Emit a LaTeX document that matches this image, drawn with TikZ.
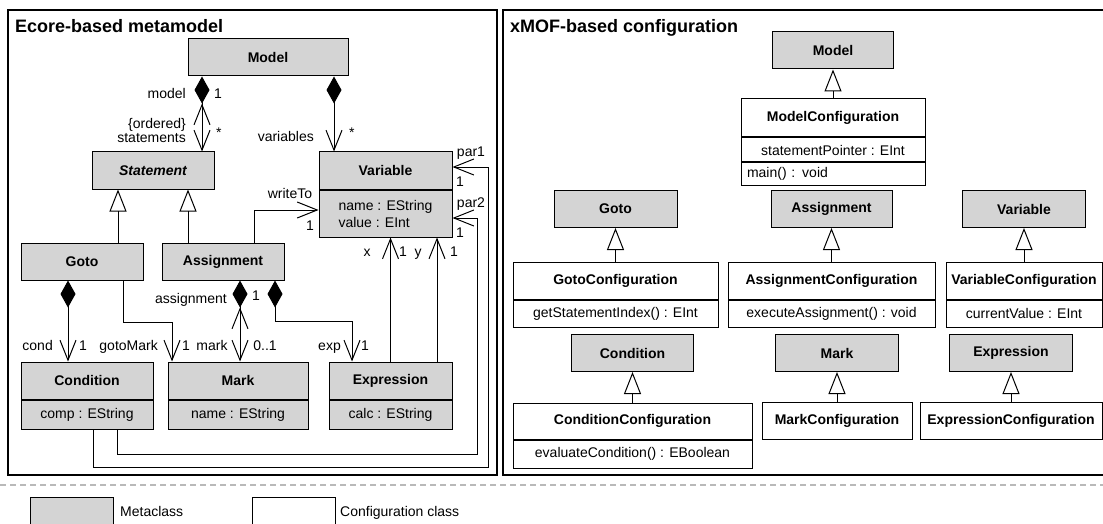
\documentclass[tikz,border=0pt]{standalone}
\usepackage{fontspec}
\setmainfont{Liberation Sans}
\usetikzlibrary{arrows.meta,positioning}
\definecolor{metagrey}{HTML}{D4D4D4}
\newcommand\umlfont{\fontsize{14}{15}\selectfont}
\newcommand\titlefont{\fontsize{18}{20}\selectfont\bfseries}
\tikzset{
  meta/.style={draw, fill=metagrey, line width=1pt, inner sep=0pt,
    minimum height=37pt, font=\umlfont\bfseries},
  conf/.style={meta, fill=white},
  attr/.style={draw, fill=metagrey, line width=1pt, inner sep=0pt,
    font=\umlfont, align=left},
  cattr/.style={attr, fill=white},
  lbl/.style={inner sep=0pt, font=\umlfont, text height=10pt, text depth=3pt},
  assoc/.style={line width=1pt, -{Straight Barb[length=20pt,width=16pt]}},
  comp/.style={line width=1pt,
    {Diamond[length=27pt,width=15pt]}-{Straight Barb[length=20pt,width=16pt]}},
  bicomp/.style={line width=1pt,
    {Diamond[length=27pt,width=15pt]Straight Barb[length=20pt,width=16pt]}-{Straight Barb[length=20pt,width=16pt]}},
  gen/.style={line width=1pt, -{Triangle[open,length=22pt,width=17pt]}},
  panel/.style={draw, line width=2.5pt}
}
\begin{document}
\begin{tikzpicture}[x=1pt,y=-1pt]
  \useasboundingbox (0,0) rectangle (1103,524);
  \draw[panel] (8,10) rectangle (497,475);
  \draw[panel] (503,10) rectangle (1106,475);
  \node[anchor=base west, inner sep=0pt, font=\titlefont] (lTitle) at (15,33) {Ecore-based metamodel};
  \node[anchor=base west, inner sep=0pt, font=\titlefont] (rTitle) at (510,33) {xMOF-based configuration};

  \node[meta, minimum width=160] (lModel) at (268,57.5) {Model};
  \node[meta, minimum width=122, font=\umlfont\bfseries\itshape] (lStatement) at (153,170.5) {Statement};
  \node[meta, minimum width=133] (lVarHead) at (385.5,170.5) {Variable};
  \node[attr, minimum width=133, minimum height=47, below=0pt of lVarHead] (lVarAttr) {name : EString\\[2pt]value : EInt};
  \node[meta, minimum width=122] (lGoto) at (82,261.5) {Goto};
  \node[meta, minimum width=122] (lAssign) at (223,261.5) {Assignment};
  \node[meta, minimum width=132] (lCondHead) at (87,380.5) {Condition};
  \node[attr, minimum width=132, minimum height=29, below=0pt of lCondHead] (lCondAttr) {comp : EString};
  \node[meta, minimum width=140] (lMarkHead) at (238,380.5) {Mark};
  \node[attr, minimum width=140, minimum height=29, below=0pt of lMarkHead] (lMarkAttr) {name : EString};
  \node[meta, minimum width=123] (lExprHead) at (390.5,380.5) {Expression};
  \node[attr, minimum width=123, minimum height=29, below=0pt of lExprHead] (lExprAttr) {calc : EString};

  \draw[bicomp] ([xshift=-66]lModel.south) -- ([xshift=-66]lModel.south |- lStatement.north);
  \draw[comp] ([xshift=66]lModel.south) -- ([xshift=66]lModel.south |- lVarHead.north);
  \draw[gen] ([xshift=36]lGoto.north) -- ([xshift=36]lGoto.north |- lStatement.south);
  \draw[gen] ([xshift=-35]lAssign.north) -- ([xshift=-35]lAssign.north |- lStatement.south);
  \draw[assoc] ([xshift=31]lAssign.north) |- ([yshift=3.5]lVarAttr.west);
  \draw[comp] ([xshift=-14]lGoto.south) -- ([xshift=-14]lGoto.south |- lCondHead.north);
  \draw[assoc] ([xshift=41]lGoto.south) -- ++(0,42) -| ([xshift=-66]lMarkHead.north);
  \draw[bicomp] ([xshift=17]lAssign.south) -- ([xshift=17]lAssign.south |- lMarkHead.north);
  \draw[comp] ([xshift=52]lAssign.south) -- ++(0,41) -| ([xshift=-38.5]lExprHead.north);
  \draw[assoc] (lExprHead.north) -- (lExprHead.north |- lVarAttr.south);
  \draw[assoc] ([xshift=46.5]lExprHead.north) -- ([xshift=46.5]lExprHead.north |- lVarAttr.south);
  \draw[assoc] ([xshift=6]lCondAttr.south) -- ++(0,38) -| ([xshift=36,yshift=3.5]lVarHead.east)
    -- ([yshift=3.5]lVarHead.east);
  \draw[assoc] ([xshift=30]lCondAttr.south) -- ++(0,25) -| ([xshift=25,yshift=-4.5]lVarAttr.east)
    -- ([yshift=-4.5]lVarAttr.east);

  \node[lbl, anchor=east] (tModel) at (186,95) {model};
  \node[lbl, anchor=west] (tModelOne) at (214,95) {1};
  \node[lbl, anchor=east] (tOrdered) at (186,125) {\{ordered\}};
  \node[lbl, anchor=east] (tStatements) at (186,139) {statements};
  \node[lbl, anchor=west] (tStatementsMany) at (216,134) {*};
  \node[lbl, anchor=east] (tVariables) at (314,138) {variables};
  \node[lbl, anchor=west] (tVariablesMany) at (349,134) {*};
  \node[lbl] (tWriteTo) at (290,195) {writeTo};
  \node[lbl] (tWriteToOne) at (310,227) {1};
  \node[lbl] (tParOne) at (471,153) {par1};
  \node[lbl] (tParOneMult) at (460,183) {1};
  \node[lbl] (tParTwo) at (471,204) {par2};
  \node[lbl] (tParTwoMult) at (460,234) {1};
  \node[lbl] (tX) at (367,253) {x};
  \node[lbl] (tXOne) at (403,253) {1};
  \node[lbl] (tY) at (418,253) {y};
  \node[lbl] (tYOne) at (454,253) {1};
  \node[lbl, anchor=east] (tCond) at (53,347) {cond};
  \node[lbl] (tCondOne) at (83,347) {1};
  \node[lbl, anchor=east] (tGotoMark) at (158,347) {gotoMark};
  \node[lbl] (tGotoMarkOne) at (186,347) {1};
  \node[lbl] (tMark) at (212,347) {mark};
  \node[lbl] (tMarkOpt) at (265,347) {0..1};
  \node[lbl, anchor=east] (tAssignment) at (227,300) {assignment};
  \node[lbl] (tAssignmentOne) at (256,297) {1};
  \node[lbl, anchor=east] (tExp) at (341,347) {exp};
  \node[lbl] (tExpOne) at (365,347) {1};

  \node[meta, minimum width=121] (rModel) at (833,50.5) {Model};
  \node[conf, minimum width=184, minimum height=38] (rModelConf) at (833,118) {ModelConfiguration};
  \node[cattr, minimum width=184, minimum height=24, below=0pt of rModelConf] (rModelAttr) {statementPointer : EInt};
  \node[cattr, text width=172, inner xsep=6, minimum height=22, below=0pt of rModelAttr] (rModelOps) {main() : void};
  \node[meta, minimum width=123] (rGoto) at (615.5,209) {Goto};
  \node[meta, minimum width=121] (rAssign) at (831.5,209) {Assignment};
  \node[meta, minimum width=123] (rVariable) at (1024,209) {Variable};
  \node[conf, minimum width=205] (rGotoConf) at (615.5,280.5) {GotoConfiguration};
  \node[cattr, minimum width=205, minimum height=27, below=0pt of rGotoConf] (rGotoOps) {getStatementIndex() : EInt};
  \node[conf, minimum width=207] (rAssignConf) at (831.5,280.5) {AssignmentConfiguration};
  \node[cattr, minimum width=207, minimum height=27, below=0pt of rAssignConf] (rAssignOps) {executeAssignment() : void};
  \node[conf, minimum width=156] (rVarConf) at (1024,280.5) {VariableConfiguration};
  \node[cattr, minimum width=156, minimum height=27, below=0pt of rVarConf] (rVarAttr) {currentValue : EInt};
  \node[meta, minimum width=122] (rCondition) at (632.5,353) {Condition};
  \node[conf, minimum width=239, minimum height=36] (rCondConf) at (632.5,421) {ConditionConfiguration};
  \node[cattr, minimum width=239, minimum height=28, below=0pt of rCondConf] (rCondOps) {evaluateCondition() : EBoolean};
  \node[meta, minimum width=123] (rMark) at (837,353) {Mark};
  \node[conf, minimum width=150] (rMarkConf) at (837,420.5) {MarkConfiguration};
  \node[meta, minimum width=123] (rExpression) at (1011,353) {Expression};
  \node[conf, minimum width=182] (rExprConf) at (1011,420.5) {ExpressionConfiguration};

  \foreach \c/\m in {rModelConf/rModel, rGotoConf/rGoto, rAssignConf/rAssign, rVarConf/rVariable,
      rCondConf/rCondition, rMarkConf/rMark, rExprConf/rExpression}
    \draw[gen] (\c.north) -- (\c.north |- \m.south);

  \draw[gray!55, line width=1.2pt, dash pattern=on 6pt off 4pt] (0,485) -- (1103,485);
  \node[meta, minimum width=83, minimum height=34, anchor=north west] (legMeta) at (30,497) {};
  \node[lbl, anchor=west] (legMetaText) at (120,513) {Metaclass};
  \node[conf, minimum width=83, minimum height=34, anchor=north west] (legConf) at (252,497) {};
  \node[lbl, anchor=west] (legConfText) at (340,513) {Configuration class};
\end{tikzpicture}
\end{document}
